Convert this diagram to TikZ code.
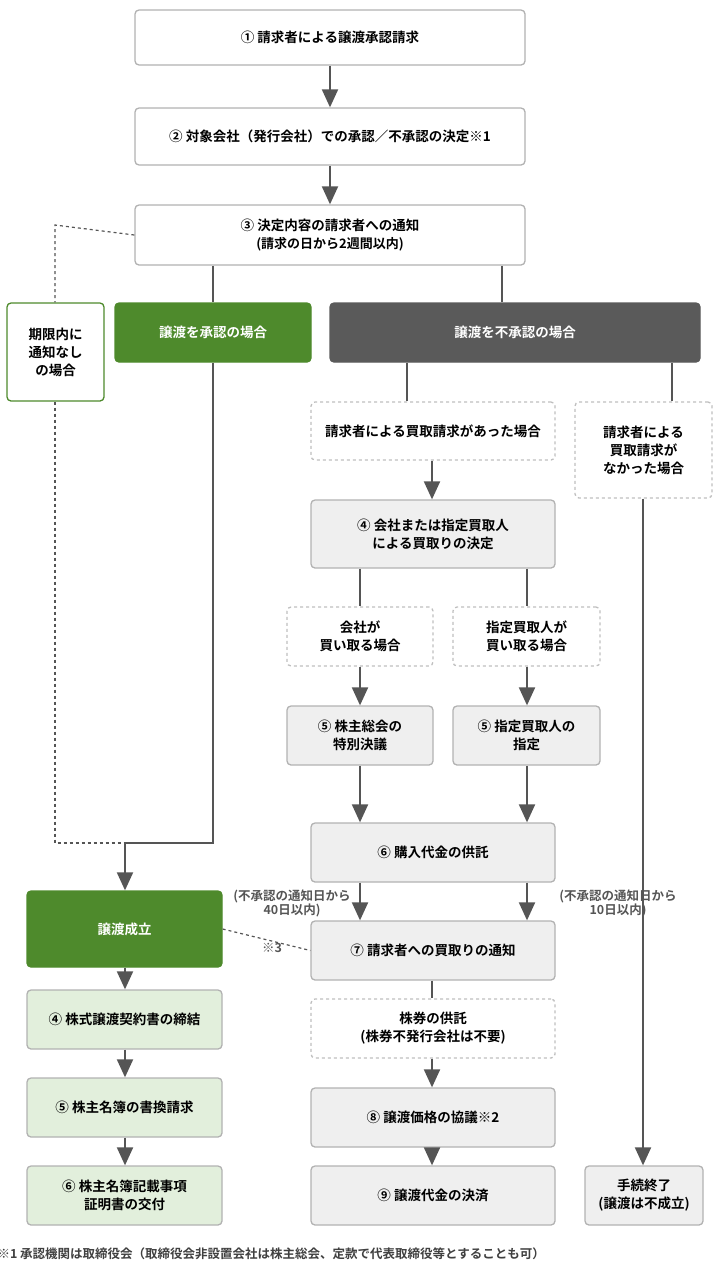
\documentclass[tikz,border=0pt]{standalone}
\usepackage{fontspec}
\setmainfont{Noto Sans CJK JP}[BoldFont={* Bold}]
\usetikzlibrary{arrows.meta,positioning}
\definecolor{lineg}{HTML}{555555}
\definecolor{okgreen}{HTML}{4E8A2C}
\definecolor{ngdark}{HTML}{5A5A5A}
\definecolor{boxgray}{HTML}{EFEFEF}
\definecolor{lightg}{HTML}{E2EFDC}
\tikzset{
  box/.style={draw=gray!60, line width=1.3pt, rounded corners=4pt, align=center, font=\bfseries\fontsize{13.5}{18}\selectfont},
  plain/.style={box, fill=white},
  grey/.style={box, fill=boxgray},
  cond/.style={box, draw=gray!50, dashed, fill=white},
  yes/.style={box, draw=okgreen, fill=okgreen, text=white},
  no/.style={box, draw=ngdark, fill=ngdark, text=white},
  done/.style={box, fill=lightg},
  arr/.style={draw=lineg, line width=2pt, -{Triangle[width=16pt,length=18pt]}},
  ln/.style={draw=lineg, line width=1.8pt},
  dl/.style={draw=lineg, line width=1.2pt, dashed},
  note/.style={font=\bfseries\fontsize{12.5}{14}\selectfont, text=lineg, align=center}
}
\newcommand{\bx}[6]{\node[#1, minimum width=#4-#2, minimum height=#5-#3, inner sep=0pt] (#6) at ({(#2+#4)/2},{(#3+#5)/2})}
\begin{document}
\begin{tikzpicture}[x=1pt,y=-1pt]
\useasboundingbox (0,0) rectangle (720,1280);
% main flow
\bx{plain}{135}{10}{525}{65}{req} {① 請求者による譲渡承認請求};
\bx{plain}{135}{108}{525}{165}{dec} {② 対象会社（発行会社）での承認／不承認の決定※1};
\bx{plain}{135}{205}{525}{265}{ntc} {③ 決定内容の請求者への通知\\{\fontsize{13}{16}\selectfont (請求の日から2週間以内)}};
\bx{box, draw=okgreen, fill=white}{7}{303}{104}{401}{none} {期限内に\\通知なし\\の場合};
\bx{yes}{115}{303}{311}{362}{ok} {譲渡を承認の場合};
\bx{no}{330}{303}{700}{362}{ng} {譲渡を不承認の場合};
% not approved
\bx{cond}{311}{402}{555}{460}{ask} {請求者による買取請求があった場合};
\bx{cond}{575}{402}{712}{498}{noask} {請求者による\\買取請求が\\なかった場合};
\bx{grey}{311}{500}{555}{568}{buy} {④ 会社または指定買取人\\による買取りの決定};
\bx{cond}{287}{607}{433}{666}{cbuy} {会社が\\買い取る場合};
\bx{cond}{453}{607}{600}{666}{pbuy} {指定買取人が\\買い取る場合};
\bx{grey}{287}{706}{433}{765}{gm} {⑤ 株主総会の\\特別決議};
\bx{grey}{453}{706}{600}{765}{dsg} {⑤ 指定買取人の\\指定};
\bx{grey}{311}{823}{555}{882}{dep} {⑥ 購入代金の供託};
\bx{grey}{311}{921}{555}{980}{tell} {⑦ 請求者への買取りの通知};
\bx{cond}{311}{999}{555}{1058}{cert} {株券の供託\\(株券不発行会社は不要)};
\bx{grey}{311}{1088}{555}{1147}{price} {⑧ 譲渡価格の協議※2};
\bx{grey}{311}{1166}{555}{1225}{pay} {⑨ 譲渡代金の決済};
\bx{grey}{585}{1166}{703}{1225}{end} {手続終了\\(譲渡は不成立)};
% approved
\bx{yes}{27}{891}{222}{967}{fix} {譲渡成立};
\bx{done}{27}{990}{222}{1049}{ctr} {④ 株式譲渡契約書の締結};
\bx{done}{27}{1078}{222}{1137}{reg} {⑤ 株主名簿の書換請求};
\bx{done}{27}{1166}{222}{1225}{crt} {⑥ 株主名簿記載事項\\証明書の交付};
\coordinate (j) at (125,843);
% connectors
\draw[arr] (req.south -| 330,0) -- (dec.north -| 330,0);
\draw[arr] (dec.south -| 330,0) -- (ntc.north -| 330,0);
\draw[ln] (ntc.south -| 213,0) -- (ok.north -| 213,0);
\draw[ln] (ntc.south -| 502,0) -- (ng.north -| 502,0);
\draw[dl] (ntc.west) -- (55,225) -- (none.north -| 55,0);
\draw[dl] (none.south -| 55,0) -- (55,843) -- (j);
\draw[ln] (ok.south -| 213,0) -- (213,843) -- (j);
\draw[arr] (j) -- (fix.north -| j);
\draw[arr] (fix.south -| j) -- (ctr.north -| j);
\draw[arr] (ctr.south -| j) -- (reg.north -| j);
\draw[arr] (reg.south -| j) -- (crt.north -| j);
\draw[ln] (ng.south -| 407,0) -- (ask.north -| 407,0);
\draw[ln] (ng.south -| 672,0) -- (noask.north -| 672,0);
\draw[arr] (ask.south -| 432,0) -- (buy.north -| 432,0);
\draw[ln] (buy.south -| 360,0) -- (cbuy.north -| 360,0);
\draw[ln] (buy.south -| 527,0) -- (pbuy.north -| 527,0);
\draw[arr] (cbuy.south -| 360,0) -- (gm.north -| 360,0);
\draw[arr] (pbuy.south -| 527,0) -- (dsg.north -| 527,0);
\draw[arr] (gm.south -| 360,0) -- (dep.north -| 360,0);
\draw[arr] (dsg.south -| 527,0) -- (dep.north -| 527,0);
\draw[arr] (dep.south -| 360,0) -- (tell.north -| 360,0);
\draw[arr] (dep.south -| 527,0) -- (tell.north -| 527,0);
\draw[ln] (tell.south -| 432,0) -- (cert.north -| 432,0);
\draw[arr] (cert.south -| 432,0) -- (price.north -| 432,0);
\draw[arr] (price.south -| 432,0) -- (pay.north -| 432,0);
\draw[arr] (noask.south -| 643,0) -- (end.north -| 643,0);
\draw[dl] (fix.east) -- (tell.west);
% labels
\node[note] (l40) at (292,903) {(不承認の通知日から\\40日以内)};
\node[note] (l10) at (618,903) {(不承認の通知日から\\10日以内)};
\node[note] (n3) at (272,948) {※3};
\node[note, anchor=west, text=black!75] (fn) at (-6,1254) {※1 承認機関は取締役会（取締役会非設置会社は株主総会、定款で代表取締役等とすることも可）};
\end{tikzpicture}
\end{document}
